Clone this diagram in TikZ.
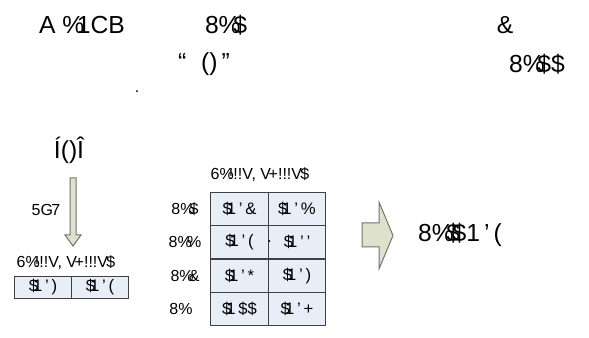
\documentclass[tikz,border=0pt]{standalone}
\usepackage{fontspec}
\setmainfont{Liberation Sans}
\definecolor{cellblue}{RGB}{232,238,248}
\definecolor{arrowgreen}{RGB}{222,225,204}
\newcommand{\ov}{\kern-.3em}

\begin{document}
\begin{tikzpicture}[x=0.75pt, y=-0.75pt, line width=0.75pt]
\tikzset{
  bigtxt/.style={font=\fontsize{18.5}{20}\selectfont, inner sep=0pt},
  smalltxt/.style={font=\fontsize{12}{14}\selectfont, inner sep=0pt},
  tcell/.style={draw=black!75, fill=cellblue, font=\fontsize{12.5}{14}\selectfont, minimum width=43pt, minimum height=25.1pt, inner sep=0pt},
  lcell/.style={tcell, minimum height=16.5pt},
  blockarrow/.style={draw=black!55, fill=arrowgreen, line join=miter}
}
\useasboundingbox (0,0) rectangle (589,338);

% title line
\node[bigtxt] (t1) at (82,25) {A \%\ov1CB};
\node[bigtxt] (t2) at (226,25) {8\%\ov\$};
\node[bigtxt] (t3) at (505,25) {\&};
\node[bigtxt] (t4) at (204,64) {“\hspace{0.6em}()\,”};
\node[bigtxt] (t5) at (537,64) {8\%\ov\$\$};
\node[smalltxt] (dot) at (137,92) {.};

% left part
\node[bigtxt] (acc) at (69,150) {Í()Î};
\draw[blockarrow] (70,178) -- (76,178) -- (76,235) -- (81,235) -- (73,246)
  -- (65,235) -- (70,235) -- cycle;
\node[smalltxt] (lab) at (46,210) {5G\kern-.1em7};
\node[smalltxt] (lhead) at (66,263) {6\%\ov!!!V, V\kern-.15em+!!!V\kern-.1em\$};
\node[lcell] (l1) at (43,287.5) {\$\ov1\,'\,)};
\node[lcell] (l2) at (100,287.5) {\$\ov1\,'\,(};

% middle table
\node[smalltxt] (mhead) at (260,175) {6\%\ov!!!V, V\kern-.15em+!!!V\kern-.1em\$};
\node[tcell] (c11) at (239.5,208.75) {\$\ov1\,'\,\&};
\node[tcell] (c12) at (297,208.75) {\$\ov1\,'\,\%};
\node[tcell] (c21) at (239.5,242.25) {\$\ov1\,'\,(};
\node[tcell] (c22) at (297,242.25) {\llap{\raisebox{4pt}{.}\hspace{9pt}}\$\ov1\,'\,'};
\node[tcell] (c31) at (239.5,275.75) {\$\ov1\,'\,*};
\node[tcell] (c32) at (297,275.75) {\$\ov1\,'\,)};
\node[tcell] (c41) at (239.5,309.25) {\$\ov1\,\$\$};
\node[tcell] (c42) at (297,309.25) {\$\ov1\,'\,+};
\node[smalltxt] (r1) at (185,208.75) {8\%\ov\$};
\node[smalltxt] (r2) at (185,242.25) {8\%\ov\%};
\node[smalltxt] (r3) at (185,275.75) {8\%\ov\&};
\node[smalltxt] (r4) at (181,309.25) {8\%};

% right part
\draw[blockarrow] (362,223) -- (379,223) -- (379,202) -- (393,235.5) -- (379,269)
  -- (379,247) -- (362,247) -- cycle;
\node[bigtxt] (res) at (460,235) {8\%\ov\$\ov\$1\,'\,(};
\end{tikzpicture}
\end{document}
